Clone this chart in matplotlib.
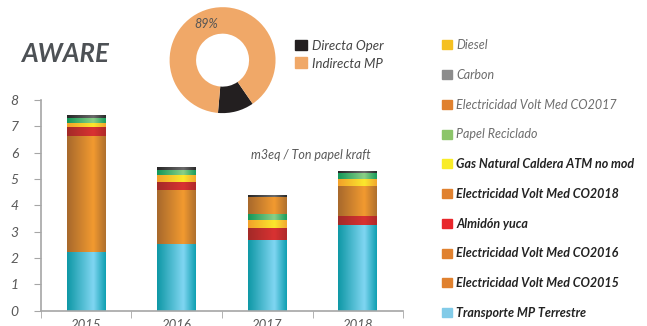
import numpy as np
import matplotlib
matplotlib.use('Agg')
import matplotlib.pyplot as plt
from matplotlib.patches import Patch
from matplotlib.colors import LinearSegmentedColormap

plt.rcParams['font.family'] = ['Lato', 'DejaVu Sans']

years = ['2015', '2016', '2017', '2018']

# stack order, bottom to top
series = ['Transporte MP Terrestre', 'Electricidad Volt Med CO2015',
          'Electricidad Volt Med CO2016', 'Almidón yuca',
          'Electricidad Volt Med CO2018', 'Gas Natural Caldera ATM no mod',
          'Papel Reciclado', 'Electricidad Volt Med CO2017', 'Carbon', 'Diesel']
transporte = [2.23, 2.53, 2.69, 3.25]
co2015 = [4.40, 0, 0, 0]
co2016 = [0, 2.05, 0, 0]
almidon = [0.36, 0.30, 0.45, 0.35]
co2018 = [0, 0, 0, 1.14]
gas = [0.15, 0.27, 0.30, 0.26]
papel = [0.18, 0.19, 0.24, 0.24]
co2017 = [0, 0, 0.65, 0]
carbon = [0.11, 0.08, 0.06, 0.07]
diesel = [0.0, 0.0, 0.0, 0.0]
values = [transporte, co2015, co2016, almidon, co2018, gas, papel, co2017, carbon, diesel]

legend_colors = ['#82cbe8', '#e0812f', '#e0812f', '#e8262b', '#e0812f',
                 '#f8ec27', '#8cc56a', '#e0812f', '#8c8c8c', '#f5c021']
# bar gradients: left edge, highlight, right edge
grads = [('#0f98a6', '#80d6f2', '#10a0b2'),
         ('#a8692c', '#f29a30', '#b0702e'),
         ('#a8692c', '#f29a30', '#b0702e'),
         ('#a32a28', '#d93232', '#b02a2a'),
         ('#a8692c', '#f29a30', '#b0702e'),
         ('#f2a12a', '#fbe82c', '#f2a830'),
         ('#13985a', '#8ccf86', '#1a9e5e'),
         ('#a8692c', '#f29a30', '#b0702e'),
         ('#262626', '#6a6a6a', '#2a2a2a'),
         ('#e0a020', '#f8d040', '#e0a020')]

donut_labels = ['Directa Oper', 'Indirecta MP']
donut_vals = [11, 89]
donut_colors = ['#231f20', '#f0a868']

grey = '#595959'

fig = plt.figure(figsize=(6.47, 3.26), dpi=100)
ax = fig.add_axes([0.063, 0.047, 0.56, 0.646])

x = np.arange(len(years))
bottom = np.zeros(len(years))
grad = np.linspace(0, 1, 64).reshape(1, -1)
for vals, (c0, c1, c2) in zip(values, grads):
    bars = ax.bar(x, vals, 0.43, bottom=bottom, color='none', linewidth=0)
    cmap = LinearSegmentedColormap.from_list('g', [(0, c0), (0.68, c1), (1, c2)])
    for p in bars.patches:
        if p.get_height() <= 0:
            continue
        bx, by = p.get_x(), p.get_y()
        ax.imshow(grad, extent=[bx, bx + p.get_width(), by, by + p.get_height()],
                  aspect='auto', cmap=cmap, interpolation='bicubic', zorder=2)
    bottom += np.array(vals)

ax.set_xlim(-0.5, 3.5)
ax.set_ylim(0, 8)
ax.set_xticks(x)
ax.set_xticklabels(years, fontsize=9.5, style='italic', color=grey)
ax.set_xticks(np.arange(-0.5, 4, 1), minor=True)
ax.tick_params(axis='x', which='major', length=0, pad=6)
ax.tick_params(axis='x', which='minor', length=5, color='#a6a6a6')
ax.set_yticks(range(0, 9))
ax.tick_params(axis='y', length=5, color='#a6a6a6', labelsize=10, labelcolor=grey, pad=11)
for t in ax.get_yticklabels():
    t.set_fontstyle('italic')
for s in ['top', 'right']:
    ax.spines[s].set_visible(False)
for s in ['left', 'bottom']:
    ax.spines[s].set_color('#a6a6a6')
    ax.spines[s].set_linewidth(1.2)

ax.text(0.58, 0.72, 'm3eq / Ton papel kraft', transform=ax.transAxes,
        fontsize=9, style='italic', color=grey)

fig.text(0.033, 0.81, 'AWARE', fontsize=18.5, fontweight='bold', style='italic', color='#4d5155')

# donut
dax = fig.add_axes([0.262, 0.653, 0.164, 0.325])
dax.pie(donut_vals, colors=donut_colors, startangle=-95, counterclock=True,
        wedgeprops=dict(width=0.5, linewidth=0))
dax.set_xlim(-1, 1)
dax.set_ylim(-1, 1)
dax.set_aspect('equal')
dax.text(-0.3, 0.68, '89%', fontsize=9, style='italic', color='#555555', ha='center', va='center')
dleg = fig.legend([Patch(color=c) for c in donut_colors], donut_labels,
                  loc='upper left', bbox_to_anchor=(0.448, 0.895), frameon=False,
                  fontsize=9.5, handlelength=0.9, handleheight=0.9, handletextpad=0.4,
                  labelspacing=0.45, borderaxespad=0)
for t in dleg.get_texts():
    t.set_fontstyle('italic')
    t.set_color('#444444')

# right legend, top to bottom
handles = [Patch(color=c) for c in legend_colors[::-1]]
leg = fig.legend(handles, series[::-1], loc='upper left', bbox_to_anchor=(0.676, 0.895),
                 frameon=False, fontsize=9, handlelength=0.75, handleheight=0.75,
                 handletextpad=0.35, labelspacing=1.42, borderaxespad=0)
for i, t in enumerate(leg.get_texts()):
    t.set_fontstyle('italic')
    if i < 4:
        t.set_color('#6d6d6d')
    else:
        t.set_color('#222222')
        t.set_fontweight('bold')

fig.savefig('out.png', dpi=100)
